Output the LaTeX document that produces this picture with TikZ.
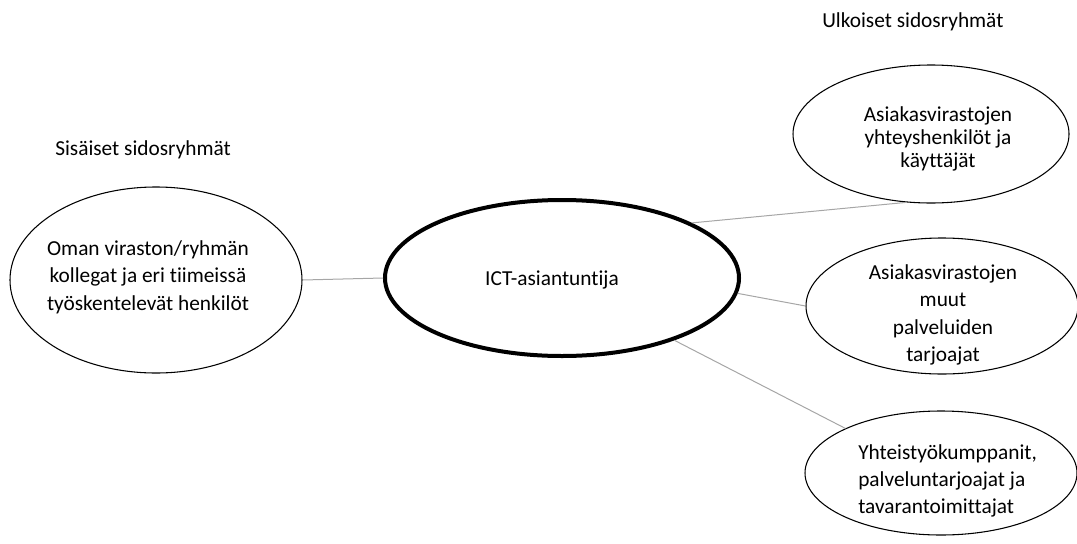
\documentclass[tikz,border=0pt]{standalone}
\usepackage{fontspec}
\setmainfont{Carlito}[Ligatures=NoCommon]
\usetikzlibrary{shapes.geometric}
\begin{document}
\begin{tikzpicture}[x=0.75pt,y=-0.75pt,
    group/.style={draw,ellipse,line width=0.8pt,inner sep=0pt},
    expert/.style={draw,ellipse,line width=3pt,inner sep=0pt},
    link/.style={draw=black!35,line width=0.75pt},
    txt/.style={font=\fontsize{16}{20.5}\selectfont,align=center,inner sep=0pt}]
  \useasboundingbox (0,0) rectangle (1077,543);
  \node[group,minimum width=219pt,minimum height=139.5pt] (oma) at (156,280) {};
  \node[expert,minimum width=265.5pt,minimum height=117pt] (ict) at (562,278) {};
  \node[group,minimum width=207pt,minimum height=103.5pt] (asiak) at (931,134) {};
  \node[group,minimum width=204pt,minimum height=102pt] (muut) at (942,306) {};
  \node[group,minimum width=204pt,minimum height=93pt] (kumpp) at (941,473) {};
  \node[txt] (omatxt) at (148,277) {Oman viraston/ryhmän\\kollegat ja eri tiimeissä\\työskentelevät henkilöt};
  \node[txt] (icttxt) at (552,280) {ICT-asiantuntija};
  \node[txt,font=\fontsize{16}{17}\selectfont] (asiaktxt) at (938,139) {Asiakasvirastojen\\yhteyshenkilöt ja\\käyttäjät};
  \node[txt,font=\fontsize{16}{20.5}\selectfont] (muuttxt) at (943,315) {Asiakasvirastojen\\muut\\palveluiden\\tarjoajat};
  \node[txt,align=left,anchor=west] (kumpptxt) at (858,481) {Yhteistyökumppanit,\\palveluntarjoajat ja\\tavarantoimittajat};
  \node[txt,anchor=west] (sis) at (55,150) {Sisäiset sidosryhmät};
  \node[txt,anchor=west] (ulk) at (822,22) {Ulkoiset sidosryhmät};
  \draw[link] (ict.180) -- (oma.0);
  \draw[link] (ict.23) -- (asiak.250);
  \draw[link] (ict.-5) -- (muut.180);
  \draw[link] (ict.-29) -- (kumpp.155);
\end{tikzpicture}
\end{document}
